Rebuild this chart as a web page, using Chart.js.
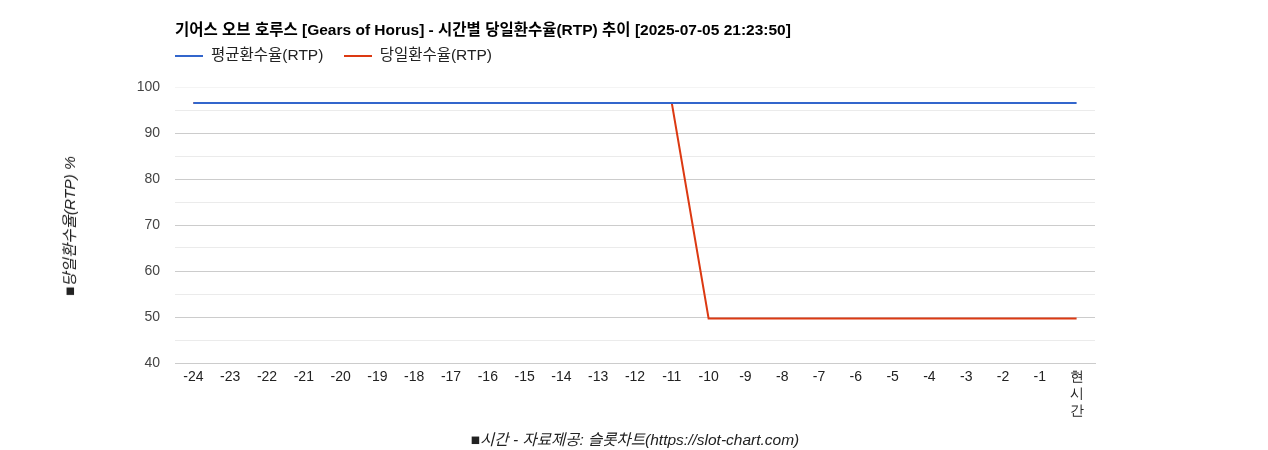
<!DOCTYPE html>
<html><head><meta charset="utf-8">
<script src="https://cdn.jsdelivr.net/npm/chart.js@4"></script>
<style>
body{margin:0;width:1268px;height:450px;position:relative;font-family:Arial,"Liberation Sans","Noto Sans CJK KR",sans-serif;background:#fff}
#c{position:absolute;left:0;top:0}
.t{position:absolute;white-space:nowrap;color:#222}
</style></head><body>
<canvas id="c" width="1268" height="450"></canvas>
<div class="t" style="left:175px;top:20px;font-size:15.5px;font-weight:bold;color:#000;line-height:20px">기어스 오브 호루스 [Gears of Horus] - 시간별 당일환수율(RTP) 추이 [2025-07-05 21:23:50]</div>
<div class="t" style="left:175px;top:45px;font-size:15.5px;line-height:20px">
<span style="display:inline-block;width:28px;height:2px;background:#3366cc;vertical-align:middle;margin-right:8px"></span>평균환수율(RTP)
<span style="display:inline-block;width:28px;height:2px;background:#dc3912;vertical-align:middle;margin:0 8px 0 16px"></span>당일환수율(RTP)</div>
<div class="t" style="left:68px;top:226px;font-size:15.5px;font-style:italic;transform:translate(-50%,-50%) rotate(-90deg)">■당일환수율(RTP) %</div>
<div class="t" style="left:635px;top:427px;font-size:15.5px;font-style:italic;transform:translateX(-50%)">■시간 - 자료제공: 슬롯차트(https://slot-chart.com)</div>
<script>
const categories=['-24','-23','-22','-21','-20','-19','-18','-17','-16','-15','-14','-13','-12','-11','-10','-9','-8','-7','-6','-5','-4','-3','-2','-1',['현','시','간']];
const avgRTP=[96.5,96.5,96.5,96.5,96.5,96.5,96.5,96.5,96.5,96.5,96.5,96.5,96.5,96.5,96.5,96.5,96.5,96.5,96.5,96.5,96.5,96.5,96.5,96.5,96.5];
const dailyRTP=[96.5,96.5,96.5,96.5,96.5,96.5,96.5,96.5,96.5,96.5,96.5,96.5,96.5,96.5,49.7,49.7,49.7,49.7,49.7,49.7,49.7,49.7,49.7,49.7,49.7];
new Chart(document.getElementById('c'),{type:'line',
data:{labels:categories,datasets:[
{label:'평균환수율(RTP)',data:avgRTP,borderColor:'#3366cc',borderWidth:2,pointRadius:0,tension:0},
{label:'당일환수율(RTP)',data:dailyRTP,borderColor:'#dc3912',borderWidth:2,pointRadius:0,tension:0}]},
options:{responsive:false,animation:false,layout:{padding:{top:87,right:173,left:0,bottom:0}},
plugins:{legend:{display:false},tooltip:{enabled:false}},
scales:{
x:{offset:true,grid:{display:false,drawTicks:false},border:{color:'#cccccc'},
 ticks:{color:'#222',font:{size:14,family:'Arial'},padding:6,maxRotation:0,autoSkip:false},
 afterFit:s=>{s.height=87}},
y:{min:40,max:100,grid:{drawTicks:false,color:c=>c.tick.value===100?'#f4f4f4':(c.tick.value%10===0?'#cccccc':'#ebebeb')},border:{display:false},
 ticks:{stepSize:5,color:'#444',font:{size:14,family:'Arial'},padding:15,callback:v=>v%10===0?v:''},
 afterFit:s=>{s.width=175}}}}});
</script></body></html>
